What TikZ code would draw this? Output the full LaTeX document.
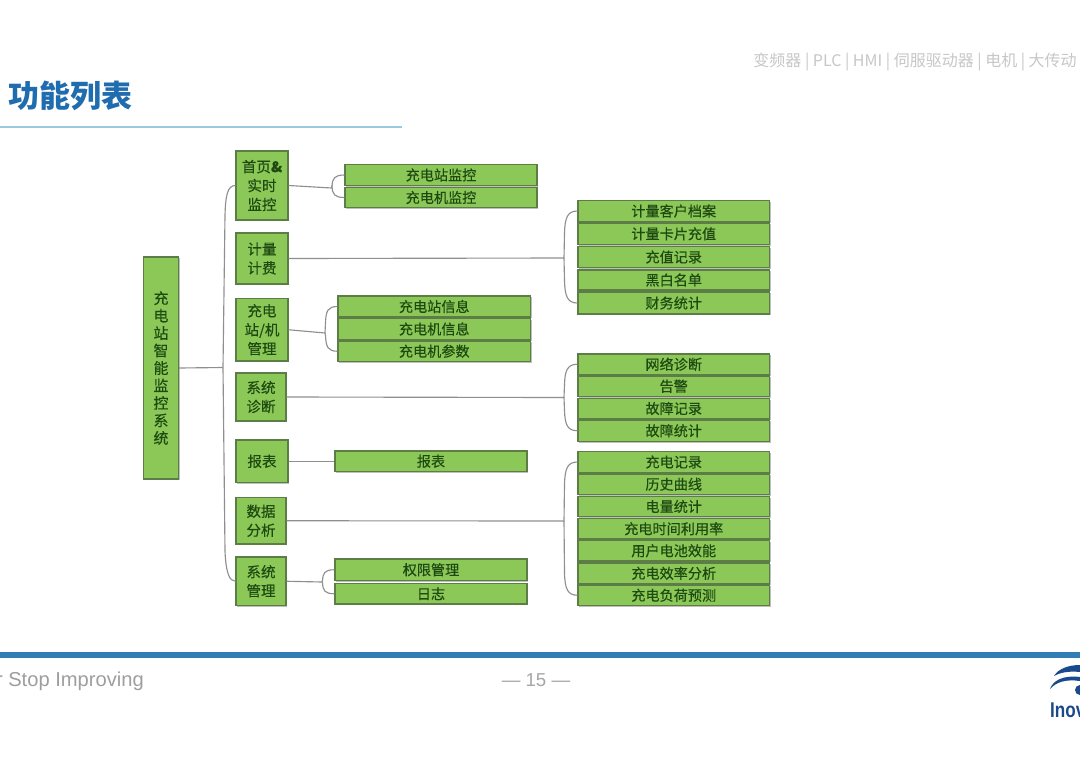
\documentclass[tikz,border=0pt]{standalone}
\usepackage{fontspec}
\setmainfont{Noto Sans CJK SC}
\newfontfamily\boxf[FakeBold=0.35]{Noto Sans CJK SC}
\newfontfamily\latinf{Liberation Sans}
\usetikzlibrary{calc,shadows}
\definecolor{boxfill}{HTML}{8CC857}
\definecolor{boxedge}{HTML}{5C7D45}
\definecolor{boxtext}{HTML}{1E4A12}
\definecolor{connline}{HTML}{8F8F8F}
\definecolor{titleblue}{HTML}{1F6CAE}
\definecolor{bandblue}{HTML}{2F7DB4}
\definecolor{logoblue}{HTML}{1B4A8C}
\tikzset{
  box/.style={draw=boxedge,line width=0.8pt,fill=boxfill,text=boxtext,inner sep=0pt,align=center,
    drop shadow={shadow xshift=0.8pt,shadow yshift=-0.8pt,opacity=0.25,fill=black}},
  leaf/.style={box,font=\boxf\fontsize{10.6}{12}\selectfont},
  branch/.style={box,font=\boxf\fontsize{10.9}{14.2}\selectfont},
  rootbox/.style={box,font=\boxf\fontsize{11.2}{13.1}\selectfont},
  conn/.style={draw=connline,line width=0.85pt},
}
\newcommand\bx[7]{%
  \pgfmathsetmacro\bw{(#5-#3)*0.75}\pgfmathsetmacro\bh{(#6-#4)*0.75}%
  \node[#1,minimum width=\bw pt,minimum height=\bh pt] (#2) at ({(#3+#5)/2},{(#4+#6)/2}) {#7};}
% bracket: first node, last node, junction, corner size, source node anchor
\newcommand\brk[5]{%
  \draw[conn] (#5) -- (#3);
  \draw[conn] (#1.west) .. controls ($(#1.west)+(-10,0)$) and ($(#3 |- #1.west)+(1,#4*0.3)$) .. ($(#3 |- #1.west)+(0.5,#4)$) -- (#3);
  \draw[conn] (#2.west) .. controls ($(#2.west)+(-10,0)$) and ($(#3 |- #2.west)+(1,-#4*0.3)$) .. ($(#3 |- #2.west)+(0.5,-#4)$) -- (#3);}
\begin{document}
\begin{tikzpicture}[x=0.75pt,y=-0.75pt]
\useasboundingbox (0,0) rectangle (1080,764);
\clip (0,0) rectangle (1080,764);
\fill[white] (0,0) rectangle (1080,764);

% header
\node[anchor=east,text=black!22,font=\fontsize{12}{14}\selectfont,inner sep=0pt] (tag) at (1077,61.5) {变频器 | PLC | HMI | 伺服驱动器 | 电机 | 大传动};
\node[anchor=west,text=titleblue,font=\fontsize{23.2}{26}\bfseries\selectfont,inner sep=0pt] (title) at (8,95.5) {功能列表};
\fill[cyan!40!teal!45] (0,126.2) rectangle (402,127.8);

% root and first level
\bx{rootbox}{root}{143.5}{257}{178.5}{479}{充\\电\\站\\智\\能\\监\\控\\系\\统}
\bx{branch}{a}{236}{151}{288}{220}{首页\textbf{\&}\\实时\\监控}
\bx{branch}{b}{236}{233}{288}{284}{计量\\计费}
\bx{branch}{c}{236}{298.5}{288}{361}{充电\\站/机\\管理}
\bx{branch}{d}{236}{373}{286}{421}{系统\\诊断}
\bx{branch}{e}{236}{440}{288}{482.5}{报表}
\bx{branch}{f}{236}{497.5}{286}{544}{数据\\分析}
\bx{branch}{g}{236}{557}{286}{605.5}{系统\\管理}

% second level
\bx{leaf}{a1}{345}{164.5}{537}{185.5}{充电站监控}
\bx{leaf}{a2}{345}{187.5}{537}{207.5}{充电机监控}
\bx{leaf}{c1}{338}{296}{530.5}{317}{充电站信息}
\bx{leaf}{c2}{338}{318.5}{530.5}{339.5}{充电机信息}
\bx{leaf}{c3}{338}{341}{530.5}{361.5}{充电机参数}
\bx{leaf}{e1}{335}{451}{527}{471.5}{报表}
\bx{leaf}{g1}{335}{559}{527}{580.5}{权限管理}
\bx{leaf}{g2}{335}{583.5}{527}{604}{日志}

\bx{leaf}{b1}{578}{200.5}{769.5}{221.5}{计量客户档案}
\bx{leaf}{b2}{578}{223}{769.5}{244.5}{计量卡片充值}
\bx{leaf}{b3}{578}{246.5}{769.5}{267.5}{充值记录}
\bx{leaf}{b4}{578}{270}{769.5}{290}{黑白名单}
\bx{leaf}{b5}{578}{292}{769.5}{314}{财务统计}

\bx{leaf}{d1}{578}{354}{769.5}{374.5}{网络诊断}
\bx{leaf}{d2}{578}{376}{769.5}{396.5}{告警}
\bx{leaf}{d3}{578}{398.5}{769.5}{418.5}{故障记录}
\bx{leaf}{d4}{578}{420}{769.5}{441.5}{故障统计}

\bx{leaf}{f1}{578}{451.5}{769.5}{472.5}{充电记录}
\bx{leaf}{f2}{578}{474}{769.5}{494.5}{历史曲线}
\bx{leaf}{f3}{578}{496.5}{769.5}{516.5}{电量统计}
\bx{leaf}{f4}{578}{518.5}{769.5}{539}{充电时间利用率}
\bx{leaf}{f5}{578}{540.5}{769.5}{561}{用户电池效能}
\bx{leaf}{f6}{578}{563}{769.5}{583.5}{充电效率分析}
\bx{leaf}{f7}{578}{585}{769.5}{605.5}{充电负荷预测}

% connectors
\coordinate (trunk) at (223,367.5);
\draw[conn] (root.east) -- (trunk);
\draw[conn] (a.west) .. controls ($(a.west)+(-8,0)$) and ($(trunk |- a.west)+(2.5,10)$) .. ($(trunk |- a.west)+(2,30)$) -- (trunk);
\draw[conn] (g.west) .. controls ($(g.west)+(-6,0)$) and ($(trunk |- g.west)+(3,-8)$) .. ($(trunk |- g.west)+(2,-30)$) -- (trunk);

\coordinate (ja) at (331.5,188);
\coordinate (jb) at (564,258);
\coordinate (jc) at (325,333);
\coordinate (jd) at (564,397.5);
\coordinate (jf) at (564,521);
\coordinate (jg) at (322,582);
\brk{a1}{a2}{ja}{11}{a.east}
\brk{b1}{b5}{jb}{22}{b.east}
\brk{c1}{c3}{jc}{16}{c.east}
\brk{d1}{d4}{jd}{20}{d.east}
\brk{f1}{f7}{jf}{22}{f.east}
\brk{g1}{g2}{jg}{11}{g.east}
\draw[conn] (e.east) -- (e1.west);

% footer
\fill[bandblue] (0,651.5) rectangle (1080,658);
\node[anchor=east,text=black!38,font=\latinf\fontsize{15.1}{18}\selectfont,inner sep=0pt] (motto) at (144,681.5) {r Stop Improving};
\node[text=black!35,font=\latinf\fontsize{14}{16}\selectfont,inner sep=0pt] (page) at (536,680) {— 15 —};

% logo
\fill[logoblue] (1054,676) .. controls (1058,669) and (1068,665) .. (1080,665) -- (1080,672) .. controls (1070,671) and (1061,672) .. (1054,676) -- cycle;
\fill[logoblue] (1050,689) .. controls (1053,680) and (1064,675) .. (1080,677) -- (1080,681) .. controls (1066,679) and (1056,682) .. (1050,689) -- cycle;
\fill[logoblue] (1080,690) circle (5);
\node[anchor=base west,text=logoblue,xscale=0.8,font=\latinf\bfseries\fontsize{16}{18}\selectfont,inner sep=0pt] (logo) at (1050,717) {Inov};
\end{tikzpicture}
\end{document}
